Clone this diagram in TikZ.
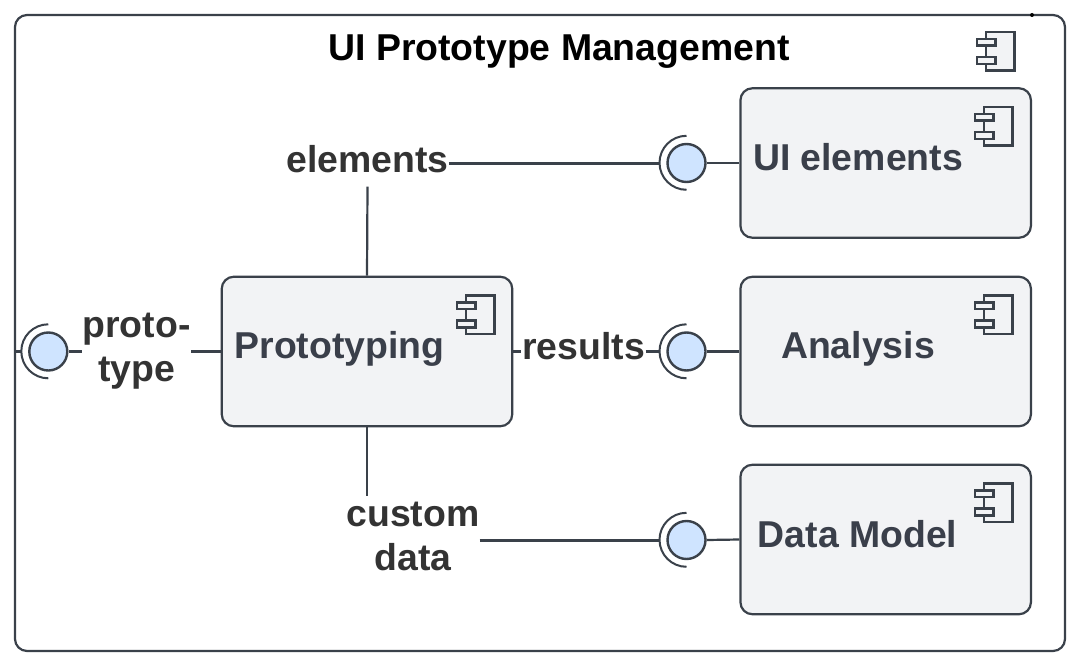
\documentclass[tikz,border=0pt]{standalone}
\usepackage{fontspec}
\setmainfont{Liberation Sans}
\definecolor{stroke}{HTML}{3A414A}
\definecolor{boxfill}{HTML}{F2F3F5}
\definecolor{ifill}{HTML}{CFE4FF}
\definecolor{ink}{HTML}{333333}
\definecolor{compink}{HTML}{3A3F4A}
\tikzset{
  frame/.style={draw=stroke,line width=2.2pt,rounded corners=12pt,fill=white},
  compbox/.style={draw=stroke,line width=2.2pt,fill=boxfill,rounded corners=12pt,minimum width=290.5pt,minimum height=149.5pt,inner sep=0pt},
  comptext/.style={text=compink,font=\fontsize{37.4}{44}\selectfont\bfseries,inner sep=0pt,anchor=center},
  lab/.style={text=ink,font=\fontsize{37.4}{44}\selectfont\bfseries,inner sep=0pt,align=center,anchor=center},
  conn/.style={draw=stroke,line width=2.2pt},
  heavy/.style={draw=stroke,line width=3pt},
  ball/.style={circle,draw=stroke,line width=2.4pt,fill=ifill,minimum size=38pt,inner sep=0pt},
  socket/.style={circle,minimum size=54pt,inner sep=0pt},
  pics/compicon/.style={code={
    \fill[boxfill,draw=stroke,line width=2.5pt] (0,0) rectangle (28.5,38.5);
    \fill[boxfill,draw=stroke,line width=2.5pt] (-9,6.8) rectangle (9.5,13.5);
    \fill[boxfill,draw=stroke,line width=2.5pt] (-9,25) rectangle (9.5,31.8);
  }}
}
\newcommand{\sockarc}[1]{\draw[draw=stroke,line width=2pt] (#1.north) arc[start angle=90,end angle=270,radius=27pt];}
\begin{document}
\begin{tikzpicture}[x=1pt,y=-1pt]
\useasboundingbox (0,0) rectangle (1084,666);
\fill[white] (0,0) rectangle (1084,666);
\draw[frame] (15,15) rectangle (1065,651);
\fill[stroke] (1032,15) circle (2pt);
\node[lab,text=black] (title) at (559,52) {UI Prototype Management};
\pic at (986.2,32) {compicon};

\node[compbox] (ui) at (885.7,163) {};
\node[compbox] (an) at (885.7,351.5) {};
\node[compbox] (dm) at (885.7,539.5) {};
\node[compbox] (pr) at (367,351.5) {};
\pic at (984,107) {compicon};
\pic at (984,295.5) {compicon};
\pic at (984,483.5) {compicon};
\pic at (466,295.5) {compicon};
\node[comptext] (uit) at (858,157) {UI elements};
\node[comptext] (ant) at (858,348.5) {Analysis};
\node[comptext] (dmt) at (857.5,534) {Data Model};
\node[comptext] (prt) at (339.5,349) {Prototyping};

\node[socket] (s1) at (686.5,163) {};
\node[socket] (s2) at (686.5,351.5) {};
\node[socket] (s3) at (686.5,540) {};
\node[socket] (s4) at (48.3,351.5) {};
\sockarc{s1}\sockarc{s2}\sockarc{s3}\sockarc{s4}
\node[ball] (b1) at (686.5,163) {};
\node[ball] (b2) at (686.5,351.5) {};
\node[ball] (b3) at (686.5,540) {};
\node[ball] (b4) at (48.3,351.5) {};

\node[lab,minimum width=162pt,minimum height=55pt] (elem) at (367.5,159) {elements};
\node[lab,minimum width=124pt] (res) at (583.5,346) {results};
\node[lab,minimum width=132pt,minimum height=80pt] (cust) at (413,536) {custom\\data};
\node[lab,minimum width=108pt] (pt) at (136.5,351) {proto-\\type};
\coordinate (frameL) at (15,351.5);

\draw[conn] (pr.north) -- (elem.south);
\draw[heavy] (elem.east |- b1.west) -- (s1.west);
\draw[conn] (b1.east) -- (ui.west);
\draw[conn] (pr.east) -- (res.west |- pr.east);
\draw[conn] (res.east |- s2.west) -- (s2.west);
\draw[conn] (b2.east) -- (an.west);
\draw[conn] (pr.south) -- (pr.south |- cust.north);
\draw[heavy] (cust.east |- s3.west) -- (s3.west);
\draw[conn] (b3.east) -- (dm.west);
\draw[conn] (pr.west) -- (pt.east |- pr.west);
\draw[conn] (b4.east) -- (pt.west |- b4.east);
\draw[conn] (frameL) -- (s4.west);
\end{tikzpicture}
\end{document}
